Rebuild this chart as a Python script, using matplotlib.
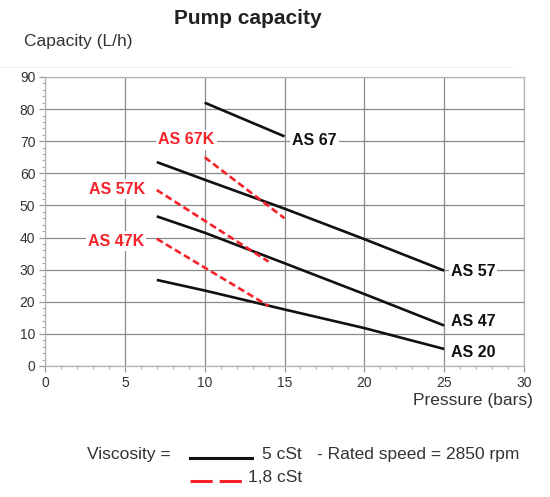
import matplotlib
matplotlib.use('agg')
import matplotlib.pyplot as plt
from matplotlib.lines import Line2D
from matplotlib.ticker import MultipleLocator

plt.rcParams['font.family'] = ['Liberation Sans', 'DejaVu Sans']
plt.rcParams['lines.scale_dashes'] = False

# pressure (bars) / capacity (L/h), 5 cSt
p_as67 = [10, 15]
q_as67 = [82, 71.5]
p_as57 = [7, 10, 15, 20, 25]
q_as57 = [63.5, 58, 49, 39.5, 29.7]
p_as47 = [7, 10, 15, 20, 25]
q_as47 = [46.6, 41.5, 32.0, 22.4, 12.6]
p_as20 = [7, 10, 15, 20, 25]
q_as20 = [26.8, 23.5, 17.6, 11.8, 5.3]

# 1,8 cSt
p_as67k = [10, 15]
q_as67k = [65, 46]
p_as57k = [7, 14]
q_as57k = [54.8, 32.5]
p_as47k = [7, 14]
q_as47k = [39.6, 18.7]

# label positions (pressure, capacity)
black_labels = [("AS 67", 15.5, 70.2), ("AS 57", 25.4, 29.5),
                ("AS 47", 25.4, 13.8), ("AS 20", 25.4, 4.3)]
red_labels = [("AS 67K", 8.85, 70.4), ("AS 57K", 4.5, 55.1), ("AS 47K", 4.45, 38.9)]

RED = '#f5222a'
GRID = '#8a8a8a'
TXT = '#333333'

fig = plt.figure(figsize=(5.5, 4.97), dpi=100)
ax = fig.add_axes([0.0818, 0.2636, 0.871, 0.5815])

ax.set_xlim(0, 30)
ax.set_ylim(0, 90)
ax.xaxis.set_major_locator(MultipleLocator(5))
ax.xaxis.set_minor_locator(MultipleLocator(1))
ax.yaxis.set_major_locator(MultipleLocator(10))
ax.yaxis.set_minor_locator(MultipleLocator(2))
ax.grid(True, which='major', color=GRID, lw=0.9)
ax.set_axisbelow(True)
for s in ax.spines.values():
    s.set_color('#b5b5b5')
    s.set_linewidth(0.9)
ax.tick_params(which='major', length=4, width=0.9, color='#999999',
               labelsize=10, labelcolor=TXT, pad=3)
ax.tick_params(which='minor', length=2.5, width=0.8, color='#aaaaaa')

for p, q in [(p_as67, q_as67), (p_as57, q_as57), (p_as47, q_as47), (p_as20, q_as20)]:
    ax.plot(p, q, color='#111111', lw=1.9, solid_capstyle='butt', zorder=3)
for p, q in [(p_as67k, q_as67k), (p_as57k, q_as57k), (p_as47k, q_as47k)]:
    ax.plot(p, q, color=RED, lw=1.9, dashes=(5, 2.6), zorder=4)

box = dict(facecolor='white', edgecolor='none', pad=1.5)
for txt, x, y in black_labels:
    ax.text(x, y, txt, fontsize=11.5, fontweight='bold', color='#111111',
            ha='left', va='center', bbox=box, zorder=5)
for txt, x, y in red_labels:
    ax.text(x, y, txt, fontsize=11.5, fontweight='bold', color=RED,
            ha='center', va='center', bbox=box, zorder=5)

fig.text(0.451, 0.962, 'Pump capacity', fontsize=15, fontweight='bold',
         color='#222222', ha='center', va='center')
fig.text(0.043, 0.917, 'Capacity (L/h)', fontsize=12.5, color=TXT,
         ha='left', va='center')
fig.add_artist(Line2D([0.0, 0.93], [0.865, 0.865], color='#eeeeee', lw=0.8))
fig.text(0.969, 0.194, 'Pressure (bars)', fontsize=12.5, color=TXT,
         ha='right', va='center')

# viscosity key
fig.text(0.158, 0.085, 'Viscosity =', fontsize=12.5, color=TXT, ha='left', va='center')
fig.add_artist(Line2D([0.345, 0.458], [0.079, 0.079], color='#111111', lw=2.2))
fig.text(0.476, 0.085, '5 cSt', fontsize=12.5, color=TXT, ha='left', va='center')
fig.text(0.576, 0.085, '- Rated speed = 2850 rpm', fontsize=12.5, color=TXT,
         ha='left', va='center')
fig.add_artist(Line2D([0.345, 0.44], [0.032, 0.032], color=RED, lw=2.2,
                      dashes=(16, 5)))
fig.text(0.451, 0.040, '1,8 cSt', fontsize=12.5, color=TXT, ha='left', va='center')

fig.savefig('out.png', dpi=100)
